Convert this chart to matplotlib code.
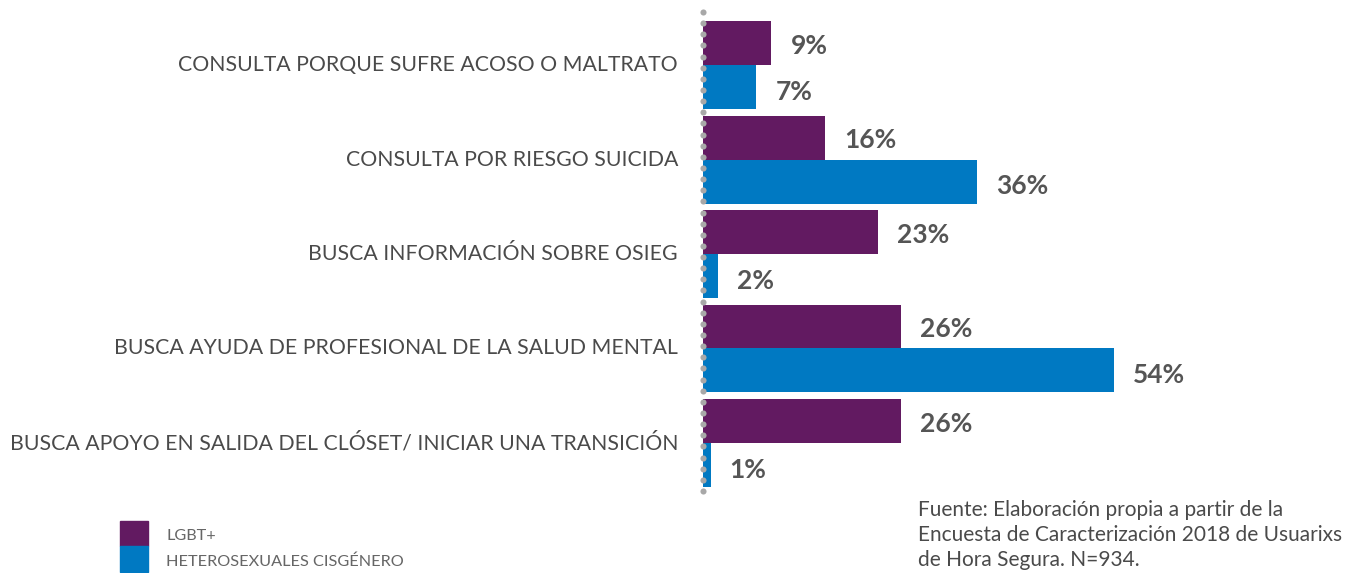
import matplotlib
matplotlib.use("Agg")
import matplotlib.pyplot as plt
import numpy as np

categories = [
    "CONSULTA PORQUE SUFRE ACOSO O MALTRATO",
    "CONSULTA POR RIESGO SUICIDA",
    "BUSCA INFORMACIÓN SOBRE OSIEG",
    "BUSCA AYUDA DE PROFESIONAL DE LA SALUD MENTAL",
    "BUSCA APOYO EN SALIDA DEL CLÓSET/ INICIAR UNA TRANSICIÓN",
]
lgbt = [9, 16, 23, 26, 26]
hetero = [7, 36, 2, 54, 1]
series_names = ["LGBT+", "HETEROSEXUALES CISGÉNERO"]
source = ("Fuente: Elaboración propia a partir de la\n"
          "Encuesta de Caracterización 2018 de Usuarixs\n"
          "de Hora Segura. N=934.")

PURPLE = "#621a61"
BLUE = "#0079c2"
TXT = "#4a4a4a"
VAL = "#555555"

plt.rcParams['font.family'] = ['Lato', 'DejaVu Sans']

W, H = 1352, 573
fig = plt.figure(figsize=(W / 100, H / 100), dpi=100)
ax_left = 703 / W
ax = fig.add_axes([ax_left, 1 - 493 / H, 1 - ax_left, 483 / H])

px_per_unit = 7.61
ax.set_xlim(0, (W - 703) / px_per_unit)
ytop = -55 / 94.5
ybot = 4 + 50 / 94.5
ax.set_ylim(ybot, ytop)

y = np.arange(len(categories))
bh = 44 / 94.5
ax.barh(y - bh / 2, lgbt, height=bh, color=PURPLE, zorder=2)
ax.barh(y + bh / 2, hetero, height=bh, color=BLUE, zorder=2)

off = 2.5
for i, (a, b) in enumerate(zip(lgbt, hetero)):
    ax.text(a + off, i - bh / 2 + 0.03, f"{a}%", va="center", ha="left",
            fontsize=19, fontweight="bold", color=VAL)
    ax.text(b + off, i + bh / 2 + 0.05, f"{b}%", va="center", ha="left",
            fontsize=19, fontweight="bold", color=VAL)

# dotted axis line (decorative)
dots_y = np.linspace(-53 / 94.5, 4 + 48 / 94.5, 44)
ax.plot(np.zeros_like(dots_y), dots_y, linestyle="none", marker="o",
        markersize=4.4, markerfacecolor="#a8a8a8", markeredgewidth=0,
        zorder=3, clip_on=False)

for s in ax.spines.values():
    s.set_visible(False)
ax.set_xticks([])
ax.set_yticks([])

# category labels
for i, c in enumerate(categories):
    ax.text(-25 / px_per_unit, i, c, ha="right", va="center",
            fontsize=15.3, color=TXT, clip_on=False)

# legend
fig.patches.append(plt.Rectangle((120 / W, 1 - 546 / H), 28 / W, 25 / H,
                                 transform=fig.transFigure, color=PURPLE))
fig.patches.append(plt.Rectangle((120 / W, 1 - 572 / H), 28 / W, 26 / H,
                                 transform=fig.transFigure, color=BLUE))
fig.text(166 / W, 1 - 536 / H, series_names[0], fontsize=11.7, color="#666666",
         va="center", ha="left")
fig.text(166 / W, 1 - 562 / H, series_names[1], fontsize=11.7, color="#666666",
         va="center", ha="left")

fig.text(918 / W, 1 - 535 / H, source, fontsize=15, color=TXT,
         va="center", ha="left", linespacing=1.3)

fig.savefig("out.png", dpi=100)
